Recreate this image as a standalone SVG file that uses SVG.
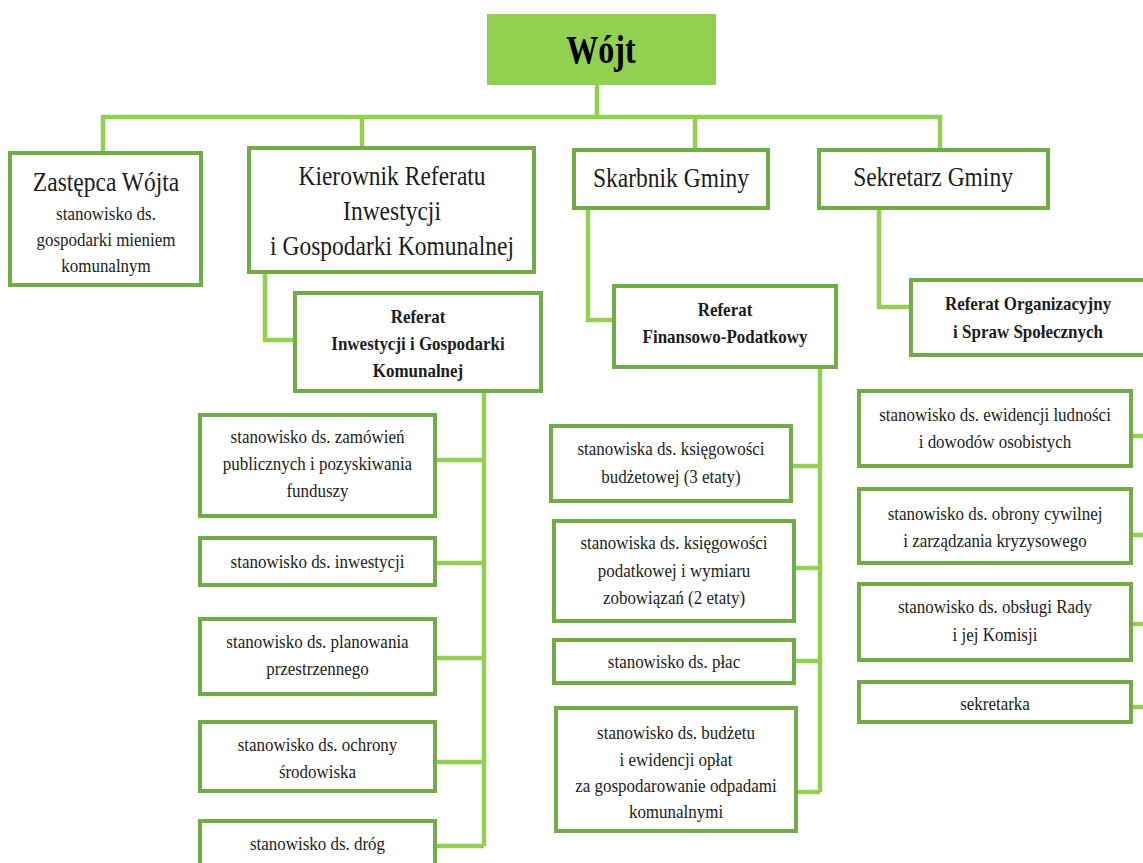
<svg xmlns="http://www.w3.org/2000/svg" width="1143" height="863" viewBox="0 0 1143 863">
<style>
.box{fill:#fff;stroke:#70AD47;stroke-width:4}
.con{fill:none;stroke:#92D050;stroke-width:4.5}
text{font-family:"Liberation Serif","Times New Roman",serif;fill:#1c1c1c;text-anchor:middle}
.big{font-size:27px}
.sm{font-size:19.5px}
.bd{font-size:19.5px;font-weight:bold}
</style>
<rect width="1143" height="863" fill="#fff"/>
<g id="connectors" class="con">
<path d="M597 85V117M103 153V117H940V150M362 117V148M695 117V150"/>
<path d="M265 272V340H295"/>
<path d="M588 208V320H614"/>
<path d="M879 208V307H911"/>
<path d="M484 391V846M435 460H484M435 563H484M435 658H484M435 762H484M435 846H484"/>
<path d="M820 367V792M791 466H820M794 568H820M794 661H820M796 792H820"/>
<path d="M1131 436H1143M1131 535H1143M1131 624H1143M1131 707H1143"/>
</g>
<g id="wojt">
<rect x="487" y="14" width="229" height="71" fill="#92D050"/>
<text transform="translate(601 0) scale(0.8 1)" y="63" style="font-size:40px;font-weight:bold;fill:#000">Wójt</text>
</g>
<g id="zastepca">
<rect class="box" x="10" y="153" width="191" height="132"/>
<g transform="translate(106 0) scale(0.87 1)">
<text class="big" y="191">Zastępca Wójta</text>
<text class="sm" y="220">stanowisko ds.</text>
<text class="sm" y="246">gospodarki mieniem</text>
<text class="sm" y="272">komunalnym</text>
</g>
</g>
<g id="kierownik">
<rect class="box" x="249" y="148" width="285" height="124"/>
<g transform="translate(392 0) scale(0.87 1)">
<text class="big" y="185">Kierownik Referatu</text>
<text class="big" y="220">Inwestycji</text>
<text class="big" y="255">i Gospodarki Komunalnej</text>
</g>
</g>
<g id="skarbnik">
<rect class="box" x="574" y="150" width="194" height="58"/>
<text class="big" transform="translate(671 0) scale(0.87 1)" y="187">Skarbnik Gminy</text>
</g>
<g id="sekretarz">
<rect class="box" x="819" y="150" width="229" height="58"/>
<text class="big" transform="translate(933 0) scale(0.87 1)" y="186">Sekretarz Gminy</text>
</g>
<g id="ref-inw">
<rect class="box" x="295" y="293" width="246" height="98"/>
<g transform="translate(418 0) scale(0.87 1)">
<text class="bd" y="323">Referat</text>
<text class="bd" y="350">Inwestycji i Gospodarki</text>
<text class="bd" y="377">Komunalnej</text>
</g>
</g>
<g id="ref-fin">
<rect class="box" x="614" y="286" width="222" height="81"/>
<g transform="translate(725 0) scale(0.87 1)">
<text class="bd" y="316">Referat</text>
<text class="bd" y="343">Finansowo-Podatkowy</text>
</g>
</g>
<g id="ref-org">
<rect class="box" x="911" y="280" width="240" height="75"/>
<g transform="translate(1028 0) scale(0.87 1)">
<text class="bd" y="310">Referat Organizacyjny</text>
<text class="bd" y="338">i Spraw Społecznych</text>
</g>
</g>
<g id="zamowien">
<rect class="box" x="200" y="415" width="235" height="101"/>
<g transform="translate(317.5 0) scale(0.87 1)">
<text class="sm" y="443">stanowisko ds. zamówień</text>
<text class="sm" y="470">publicznych i pozyskiwania</text>
<text class="sm" y="497">funduszy</text>
</g>
</g>
<g id="inwestycji">
<rect class="box" x="200" y="538" width="235" height="47"/>
<text class="sm" transform="translate(317.5 0) scale(0.87 1)" y="568">stanowisko ds. inwestycji</text>
</g>
<g id="planowania">
<rect class="box" x="200" y="619" width="235" height="75"/>
<g transform="translate(317.5 0) scale(0.87 1)">
<text class="sm" y="648">stanowisko ds. planowania</text>
<text class="sm" y="675">przestrzennego</text>
</g>
</g>
<g id="ochrony">
<rect class="box" x="200" y="722" width="235" height="69"/>
<g transform="translate(317.5 0) scale(0.87 1)">
<text class="sm" y="751">stanowisko ds. ochrony</text>
<text class="sm" y="778">środowiska</text>
</g>
</g>
<g id="drog">
<rect class="box" x="200" y="821" width="235" height="60"/>
<text class="sm" transform="translate(317.5 0) scale(0.87 1)" y="850">stanowisko ds. dróg</text>
</g>
<g id="ksieg-budz">
<rect class="box" x="551" y="426" width="240" height="75"/>
<g transform="translate(671 0) scale(0.87 1)">
<text class="sm" y="455">stanowiska ds. księgowości</text>
<text class="sm" y="483">budżetowej (3 etaty)</text>
</g>
</g>
<g id="ksieg-pod">
<rect class="box" x="554" y="521" width="240" height="100"/>
<g transform="translate(674 0) scale(0.87 1)">
<text class="sm" y="549">stanowiska ds. księgowości</text>
<text class="sm" y="577">podatkowej i wymiaru</text>
<text class="sm" y="604">zobowiązań (2 etaty)</text>
</g>
</g>
<g id="plac">
<rect class="box" x="554" y="640" width="240" height="43"/>
<text class="sm" transform="translate(674 0) scale(0.87 1)" y="668">stanowisko ds. płac</text>
</g>
<g id="budzetu">
<rect class="box" x="556" y="708" width="240" height="123"/>
<g transform="translate(676 0) scale(0.87 1)">
<text class="sm" y="739">stanowisko ds. budżetu</text>
<text class="sm" y="766">i ewidencji opłat</text>
<text class="sm" y="792">za gospodarowanie odpadami</text>
<text class="sm" y="818">komunalnymi</text>
</g>
</g>
<g id="ewidencji">
<rect class="box" x="859" y="391" width="272" height="75"/>
<g transform="translate(995 0) scale(0.87 1)">
<text class="sm" y="421">stanowisko ds. ewidencji ludności</text>
<text class="sm" y="448">i dowodów osobistych</text>
</g>
</g>
<g id="obrony">
<rect class="box" x="859" y="489" width="272" height="74"/>
<g transform="translate(995 0) scale(0.87 1)">
<text class="sm" y="520">stanowisko ds. obrony cywilnej</text>
<text class="sm" y="547">i zarządzania kryzysowego</text>
</g>
</g>
<g id="obslugi">
<rect class="box" x="859" y="584" width="272" height="76"/>
<g transform="translate(995 0) scale(0.87 1)">
<text class="sm" y="613">stanowisko ds. obsługi Rady</text>
<text class="sm" y="641">i jej Komisji</text>
</g>
</g>
<g id="sekretarka">
<rect class="box" x="859" y="682" width="272" height="40"/>
<text class="sm" transform="translate(995 0) scale(0.87 1)" y="710">sekretarka</text>
</g>
</svg>
